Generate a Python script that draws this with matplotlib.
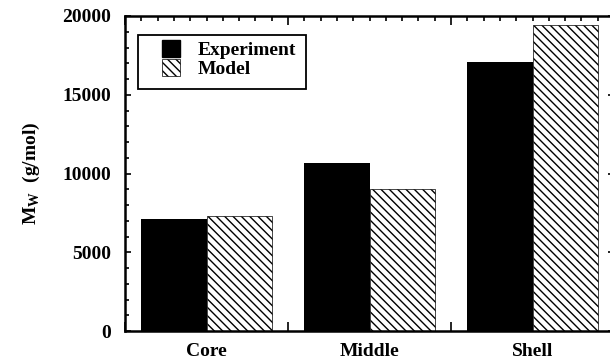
import matplotlib
matplotlib.use("Agg")
import matplotlib.pyplot as plt
import numpy as np
from matplotlib.patches import Rectangle, Patch
from matplotlib.ticker import MultipleLocator

# molecular weight by particle region
regions = ["Core", "Middle", "Shell"]
experiment = [7100, 10650, 17100]
model = [7300, 9000, 19450]
yticks = [0, 5000, 10000, 15000, 20000]

plt.rcParams["font.family"] = ["Liberation Serif", "DejaVu Serif"]
plt.rcParams["font.weight"] = "bold"
plt.rcParams["font.size"] = 14
plt.rcParams["hatch.linewidth"] = 1.0

HATCH = "\\\\\\\\"

W, H = 610, 360
fig = plt.figure(figsize=(W / 100, H / 100), dpi=100)
# right spine sits just past the canvas edge
ax = fig.add_axes([125 / W, 1 - 331 / H, (614 - 125) / W, (331 - 16) / H])

x = np.arange(len(regions)) + 0.5
bw = 0.4
ax.bar(x - bw / 2, experiment, bw, color="black", edgecolor="black", linewidth=0)
ax.bar(x + bw / 2, model, bw, color="white", edgecolor="black",
       hatch=HATCH, linewidth=0.5)

ax.set_xlim(0, len(regions))
ax.set_ylim(0, 20000)

for s in ax.spines.values():
    s.set_linewidth(1.8)

# y axis: ticks on both sides, pointing in
ax.set_yticks(yticks)
ax.yaxis.set_minor_locator(MultipleLocator(1000))
ax.tick_params(axis="y", which="both", direction="in", left=True, right=True,
               width=1.2, pad=10, labelsize=14)
ax.tick_params(axis="y", which="major", length=4.5)
ax.tick_params(axis="y", which="minor", length=3)

# x axis: group boundaries as major ticks, fine ticks along the top
ax.set_xticks(np.arange(len(regions) + 1))
ax.set_xticklabels([])
ax.xaxis.set_minor_locator(MultipleLocator(0.1))
ax.tick_params(axis="x", which="major", direction="in", top=True, bottom=True,
               length=6.5, width=1.2)
ax.tick_params(axis="x", which="minor", direction="in", top=True, bottom=False,
               length=3.6, width=1.2)
for xi, name in zip(x, regions):
    ax.annotate(name, xy=(xi, 0), xycoords=("data", "axes fraction"),
                xytext=(0, -8.5), textcoords="offset points",
                ha="center", va="top", fontsize=14, fontweight="bold")

ax.set_ylabel(r"M$_{\mathregular{W}}$  (g/mol)", fontsize=14, fontweight="bold")
ax.yaxis.set_label_coords(-0.17, 0.5)

handles = [Patch(facecolor="black", edgecolor="black"),
           Patch(facecolor="white", edgecolor="black", hatch=HATCH, linewidth=0.5)]
fig.legend(handles, ["Experiment", "Model"], loc="upper left",
           bbox_to_anchor=(162 / W, 1 - 40 / H), frameon=False,
           borderpad=0, borderaxespad=0, labelspacing=0.0,
           handlelength=0.95, handleheight=0.95, handletextpad=0.9,
           prop={"family": "Liberation Serif", "weight": "bold", "size": 14})
fig.add_artist(Rectangle((138 / W, 1 - 89 / H), 168 / W, 54 / H,
                         transform=fig.transFigure, fill=False,
                         edgecolor="black", linewidth=1.3))

fig.savefig("out.png", dpi=100)
